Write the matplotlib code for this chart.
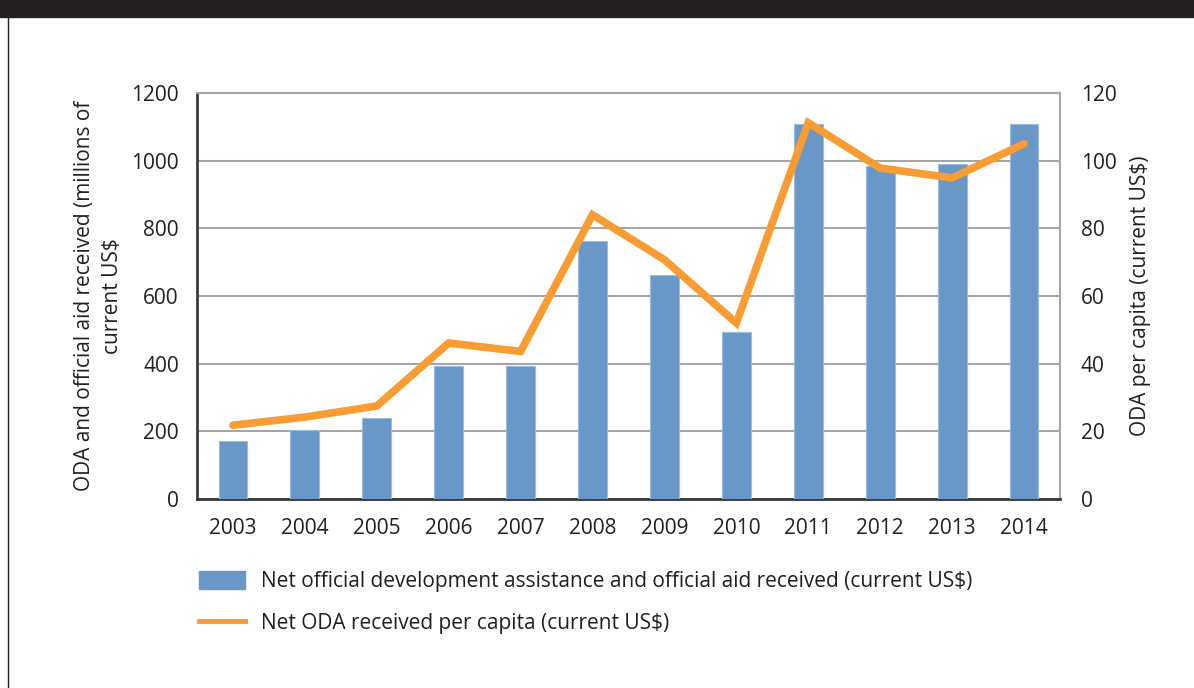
import matplotlib
matplotlib.use("Agg")
import matplotlib.pyplot as plt
from matplotlib.patches import Patch
from matplotlib.lines import Line2D

plt.rcParams["font.family"] = ["Open Sans", "DejaVu Sans"]

years = ["2003", "2004", "2005", "2006", "2007", "2008",
         "2009", "2010", "2011", "2012", "2013", "2014"]

# net ODA and official aid received, millions of current US$
oda_total = [172, 203, 238, 392, 392, 764, 661, 494, 1108, 985, 991, 1108]

# net ODA received per capita, current US$
oda_per_capita = [21.8, 24.2, 27.5, 46.1, 43.6, 84.0, 70.7, 52.0, 111.2, 97.8, 94.9, 105.0]

bar_color = "#6897c8"
line_color = "#f89c33"
grid_color = "#a6a6a6"
text_color = "#231f20"

fig = plt.figure(figsize=(11.94, 6.88), dpi=100)

# banner strip and frame edge
fig.patches.append(plt.Rectangle((0, 1 - 17 / 688), 1, 17 / 688,
                                 transform=fig.transFigure, color="#231f20", zorder=0))
fig.lines.append(Line2D([8 / 1194, 8 / 1194], [0, 1 - 17 / 688],
                        transform=fig.transFigure, color="#231f20", linewidth=1.0))

ax = fig.add_axes([197 / 1194, 1 - 499 / 688, 863 / 1194, 406 / 688])
x = list(range(len(years)))

ax.bar(x, oda_total, width=0.4, color=bar_color, edgecolor="#9dbde0",
       linewidth=0.8, zorder=3)
ax.set_ylim(0, 1200)
ax.set_xlim(-0.5, len(years) - 0.5)
ax.set_yticks(range(0, 1201, 200))
ax.set_xticks(x)
ax.set_xticklabels(years)
ax.yaxis.grid(True, color=grid_color, linewidth=1.5, zorder=0)
ax.set_axisbelow(True)

for side in ["top", "right"]:
    ax.spines[side].set_color(grid_color)
    ax.spines[side].set_linewidth(1.5)
for side in ["left", "bottom"]:
    ax.spines[side].set_color("#3a3a3a")
    ax.spines[side].set_linewidth(2.0)

ax.tick_params(axis="both", length=0, labelsize=15, colors=text_color, pad=13)
ax.tick_params(axis="x", pad=14)

ax.set_ylabel("ODA and official aid received (millions of\ncurrent US$",
              fontsize=15, color=text_color, labelpad=6, linespacing=1.45)

ax2 = ax.twinx()
ax2.plot(x, oda_per_capita, color=line_color, linewidth=5.5,
         solid_capstyle="round", solid_joinstyle="miter", zorder=4)
ax2.set_ylim(0, 120)
ax2.set_yticks(range(0, 121, 20))
ax2.tick_params(axis="y", length=0, labelsize=15, colors=text_color, pad=15)
for sp in ax2.spines.values():
    sp.set_visible(False)
ax2.set_ylabel("ODA per capita (current US$)", fontsize=15,
               color=text_color, labelpad=10)

handles = [
    Patch(facecolor=bar_color, edgecolor=bar_color),
    Line2D([0], [0], color=line_color, linewidth=3.5),
]
labels = [
    "Net official development assistance and official aid received (current US$)",
    "Net ODA received per capita (current US$)",
]
fig.legend(handles, labels, loc="upper left",
           bbox_to_anchor=(180 / 1194, 1 - 552 / 688),
           frameon=False, fontsize=15, handlelength=2.2, handleheight=1.0,
           handletextpad=0.8, labelspacing=1.0, labelcolor=text_color)

fig.savefig("out.png", dpi=100)
